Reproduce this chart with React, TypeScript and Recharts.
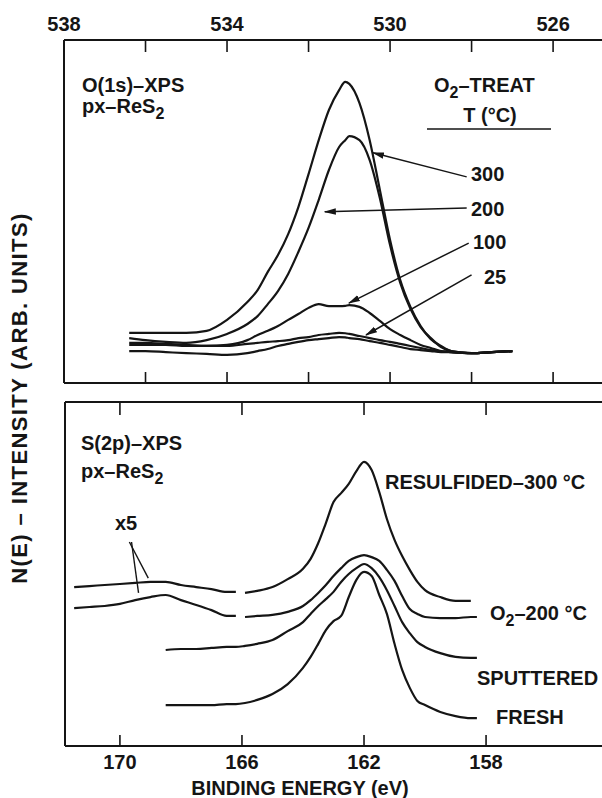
import React from "react";
import { LineChart, Line, XAxis, YAxis, ReferenceLine } from "recharts";

const INK = "#151515";
const FONT = "'Liberation Sans', Arial, Helvetica, sans-serif";

// ---- O(1s) panel ----
const oEnergy = [536.4, 536.0, 535.5, 535.0, 534.5, 534.0, 533.5, 533.25, 533.0, 532.75, 532.5, 532.25, 532.0, 531.75, 531.5, 531.25, 531.1, 531.0, 530.75, 530.5, 530.25, 530.0, 529.75, 529.5, 529.25, 529.0, 528.75, 528.5, 528.0, 527.5, 527.0];
const o300 = [14.6, 14.6, 14.6, 14.6, 15.2, 18.4, 23.6, 27.1, 32.4, 37.3, 43.4, 51.3, 60.9, 70.8, 79.6, 85.4, 87.8, 87.2, 81.6, 70.8, 56.3, 41.7, 30.0, 22.2, 16.6, 12.8, 10.8, 9.3, 8.7, 9.0, 9.3];
const o200 = [13.1, 12.5, 12.0, 11.7, 12.5, 14.3, 17.2, 19.5, 23.0, 26.8, 31.8, 38.2, 45.2, 53.4, 62.1, 68.8, 70.8, 72.0, 70.8, 65.0, 53.9, 40.2, 29.2, 21.6, 16.3, 13.1, 10.5, 9.3, 8.7, 9.0, 9.3];
const o100 = [11.7, 11.7, 11.4, 11.1, 10.8, 11.1, 12.5, 14.0, 15.2, 16.6, 18.4, 20.1, 21.9, 23.0, 22.4, 22.4, 22.5, 22.7, 22.2, 20.4, 18.1, 15.7, 14.0, 12.5, 11.1, 10.2, 9.3, 9.0, 8.7, 9.0, 9.3];
const o25 = [11.1, 11.1, 11.1, 10.8, 10.8, 10.8, 11.4, 11.7, 12.0, 12.2, 12.5, 13.1, 13.4, 14.0, 14.3, 14.6, 14.5, 14.3, 13.7, 13.1, 12.5, 12.0, 11.4, 10.8, 10.2, 9.6, 9.3, 9.0, 8.7, 9.0, 9.3];
const oFresh = [9.3, 9.3, 9.0, 8.7, 8.5, 8.2, 8.7, 9.3, 9.9, 10.8, 11.4, 12.0, 12.5, 12.8, 13.1, 13.4, 13.3, 13.1, 12.8, 12.2, 11.7, 11.1, 10.5, 9.9, 9.6, 9.3, 9.0, 9.0, 8.7, 9.0, 9.3];

const oTopTicks = [538, 536, 534, 532, 530, 528, 526];
const oTopLabels = [538, 534, 530, 526];
const oBottomTicks = [536, 534, 532, 530, 528, 526];

// arrows: [fromEv, fromI, toEv, toI]
const oArrows = [
  [528.12, 60.1, 530.42, 67.1],
  [528.12, 51.0, 531.6, 49.9],
  [528.07, 40.8, 531.01, 23.3],
  [528.0, 31.5, 530.59, 14.0],
];

// ---- S(2p) panel ----
const sEnergy = [171.5, 171.0, 170.5, 170.0, 169.5, 169.0, 168.5, 168.0, 167.5, 167.0, 166.5, 166.2, 165.9, 165.5, 165.0, 164.5, 164.0, 163.75, 163.5, 163.25, 163.0, 162.75, 162.5, 162.25, 162.0, 161.75, 161.5, 161.25, 161.0, 160.75, 160.5, 160.25, 160.0, 159.5, 159.0, 158.5, 158.3];
const resulfX5 = [46.2, 46.5, 46.8, 47.1, 47.4, 47.7, 47.7, 46.8, 46.2, 45.6, 44.8, 44.8];
const resulf = [44.5, 45.1, 46.2, 48.5, 51.5, 54.4, 59.0, 64.8, 70.9, 73.5, 76.2, 79.9, 82.6, 80.2, 73.8, 66.0, 59.9, 55.2, 51.2, 47.7, 45.3, 43.3, 42.2, 42.2, null];
const o2X5 = [40.1, 40.4, 40.7, 41.3, 42.4, 43.3, 43.9, 42.4, 41.0, 39.5, 37.8, 37.8];
const o2Treat = [37.5, 37.8, 38.1, 39.0, 40.7, 42.4, 44.5, 46.8, 49.4, 51.7, 53.8, 54.9, 55.5, 54.9, 53.8, 51.2, 48.0, 43.6, 39.8, 38.4, 37.5, 37.2, 37.2, 37.5, 37.5];
const sputtered = [null, null, null, null, null, null, 27.9, 28.2, 28.2, 28.5, 28.8, 28.8, 29.1, 29.7, 30.8, 33.4, 36.0, 38.4, 40.7, 42.7, 44.8, 47.7, 50.0, 51.7, 52.9, 51.7, 49.1, 45.3, 40.7, 36.0, 32.8, 30.2, 28.8, 27.0, 25.9, 25.6, 25.6];
const fresh = [null, null, null, null, null, null, 11.9, 11.9, 11.9, 11.9, 12.2, 12.2, 12.5, 13.4, 15.1, 18.0, 22.7, 25.9, 29.7, 33.7, 36.3, 37.8, 43.3, 48.3, 50.6, 49.4, 43.9, 38.4, 29.7, 22.1, 16.9, 13.1, 11.9, 9.9, 8.7, 8.1, 8.1];

const sTicks = [170, 166, 162, 158];

// x5 pointer lines: [fromEv, fromI, toEv, toI]
const sPointers = [
  [169.69, 59.3, 169.07, 48.8],
  [169.62, 59.3, 169.39, 44.5],
];

const oRows = oEnergy.map((ev, i) => ({
  ev,
  t300: o300[i],
  t200: o200[i],
  t100: o100[i],
  t25: o25[i],
  t0: oFresh[i],
}));

const nX5 = resulfX5.length;
const sRows = sEnergy.map((ev, i) => ({
  ev,
  resX5: i < nX5 ? resulfX5[i] : null,
  res: i >= nX5 ? resulf[i - nX5] : null,
  o2X5: i < nX5 ? o2X5[i] : null,
  o2: i >= nX5 ? o2Treat[i - nX5] : null,
  sput: sputtered[i],
  fresh: fresh[i],
}));

function makeTick(dir: number, len: number, labels: number[], labelDy: number) {
  return (props: any) => {
    const { x, y, payload } = props;
    const v = payload.value;
    return (
      <g>
        <line x1={x} y1={y} x2={x} y2={y + dir * len} stroke={INK} strokeWidth={1.6} />
        {labels.includes(v) && (
          <text x={x} y={y + labelDy} textAnchor="middle" fontFamily={FONT} fontSize={20} fontWeight="bold" fill={INK}>
            {v}
          </text>
        )}
      </g>
    );
  };
}

const ArrowShape = (props: any) => (
  <line x1={props.x1} y1={props.y1} x2={props.x2} y2={props.y2} stroke={INK} strokeWidth={1.5} markerEnd="url(#arrowHead)" />
);
const PlainShape = (props: any) => (
  <line x1={props.x1} y1={props.y1} x2={props.x2} y2={props.y2} stroke={INK} strokeWidth={1.4} />
);

const axisLine = { stroke: INK, strokeWidth: 2 };
const lineProps = {
  type: "monotone" as const,
  stroke: INK,
  strokeWidth: 2.2,
  dot: false,
  isAnimationActive: false,
  xAxisId: "b",
  yAxisId: "y",
};

const txt = { fontFamily: FONT, fontSize: 20, fontWeight: "bold", fill: INK };

export default function App() {
  return (
    <div style={{ position: "absolute", left: 0, top: 0, width: 602, height: 798, background: "#fff" }}>
      <svg width={0} height={0} style={{ position: "absolute" }}>
        <defs>
          <marker id="arrowHead" viewBox="0 0 12 8" refX="11" refY="4" markerWidth="12" markerHeight="8" markerUnits="userSpaceOnUse" orient="auto">
            <path d="M0,0.8 L12,4 L0,7.2 z" fill={INK} />
          </marker>
        </defs>
      </svg>

      <div style={{ position: "absolute", left: 0, top: 0 }}>
        <LineChart width={602} height={400} data={oRows} margin={{ top: 0, right: 0, bottom: 0, left: 0 }}>
          <XAxis xAxisId="t" orientation="top" height={40} dataKey="ev" type="number" domain={[524.8, 538]} reversed ticks={oTopTicks} interval={0} tickSize={0} tickMargin={0} tickLine={false} axisLine={axisLine} tick={makeTick(1, 12, oTopLabels, -9)} />
          <XAxis xAxisId="b" orientation="bottom" height={17} dataKey="ev" type="number" domain={[524.8, 538]} reversed ticks={oBottomTicks} interval={0} tickSize={0} tickMargin={0} tickLine={false} axisLine={axisLine} tick={makeTick(-1, 11, [], 0)} />
          <YAxis yAxisId="y" width={64} type="number" domain={[0, 100]} tick={false} tickLine={false} axisLine={axisLine} />
          <Line {...lineProps} dataKey="t300" />
          <Line {...lineProps} dataKey="t200" />
          <Line {...lineProps} dataKey="t100" />
          <Line {...lineProps} dataKey="t25" />
          <Line {...lineProps} dataKey="t0" />
          {oArrows.map((a, i) => (
            <ReferenceLine key={i} xAxisId="b" yAxisId="y" segment={[{ x: a[0], y: a[1] }, { x: a[2], y: a[3] }]} shape={ArrowShape} />
          ))}
        </LineChart>
      </div>

      <div style={{ position: "absolute", left: 0, top: 360 }}>
        <LineChart width={602} height={438} data={sRows} margin={{ top: 0, right: 0, bottom: 0, left: 0 }}>
          <XAxis xAxisId="t" orientation="top" height={42} dataKey="ev" type="number" domain={[154.2, 171.8]} reversed ticks={sTicks} interval={0} tickSize={0} tickMargin={0} tickLine={false} axisLine={axisLine} tick={makeTick(1, 13, [], 0)} />
          <XAxis xAxisId="b" orientation="bottom" height={52} dataKey="ev" type="number" domain={[154.2, 171.8]} reversed ticks={sTicks} interval={0} tickSize={0} tickMargin={0} tickLine={false} axisLine={axisLine} tick={makeTick(-1, 11, sTicks, 23)} />
          <YAxis yAxisId="y" width={65} type="number" domain={[0, 100]} tick={false} tickLine={false} axisLine={axisLine} />
          <Line {...lineProps} dataKey="resX5" />
          <Line {...lineProps} dataKey="res" />
          <Line {...lineProps} dataKey="o2X5" />
          <Line {...lineProps} dataKey="o2" />
          <Line {...lineProps} dataKey="sput" />
          <Line {...lineProps} dataKey="fresh" />
          {sPointers.map((a, i) => (
            <ReferenceLine key={i} xAxisId="b" yAxisId="y" segment={[{ x: a[0], y: a[1] }, { x: a[2], y: a[3] }]} shape={PlainShape} />
          ))}
        </LineChart>
      </div>

      <svg width={602} height={798} style={{ position: "absolute", left: 0, top: 0, pointerEvents: "none" }}>
        <text x={82} y={92} {...txt}>O(1s)–XPS</text>
        <text x={82} y={113} {...txt}>
          px–ReS<tspan dy={6} fontSize={16}>2</tspan>
        </text>
        <text x={434} y={92} {...txt}>
          O<tspan dy={6} fontSize={16}>2</tspan>
          <tspan dy={-6}>–TREAT</tspan>
        </text>
        <text x={490} y={122} textAnchor="middle" {...txt}>T (°C)</text>
        <line x1={427} y1={129} x2={551} y2={129} stroke={INK} strokeWidth={1.4} />
        <text x={471} y={181} {...txt}>300</text>
        <text x={471} y={216} {...txt}>200</text>
        <text x={473} y={249} {...txt}>100</text>
        <text x={484} y={284} {...txt}>25</text>

        <text x={81} y={450} {...txt}>S(2p)–XPS</text>
        <text x={81} y={478} {...txt}>
          px–ReS<tspan dy={6} fontSize={16}>2</tspan>
        </text>
        <text x={115} y={530} {...txt}>x5</text>
        <text x={385} y={489} {...txt}>RESULFIDED–300 °C</text>
        <text x={490} y={620} {...txt}>
          O<tspan dy={6} fontSize={16}>2</tspan>
          <tspan dy={-6}>–200 °C</tspan>
        </text>
        <text x={477} y={685} {...txt}>SPUTTERED</text>
        <text x={496} y={724} {...txt}>FRESH</text>

        <text x={300} y={795} textAnchor="middle" {...txt}>BINDING ENERGY (eV)</text>
        <text x={19} y={398} textAnchor="middle" dominantBaseline="central" transform="rotate(-90 19 398)" {...txt} fontSize={22} letterSpacing={1.4}>
          N(E) – INTENSITY (ARB. UNITS)
        </text>
      </svg>
    </div>
  );
}
